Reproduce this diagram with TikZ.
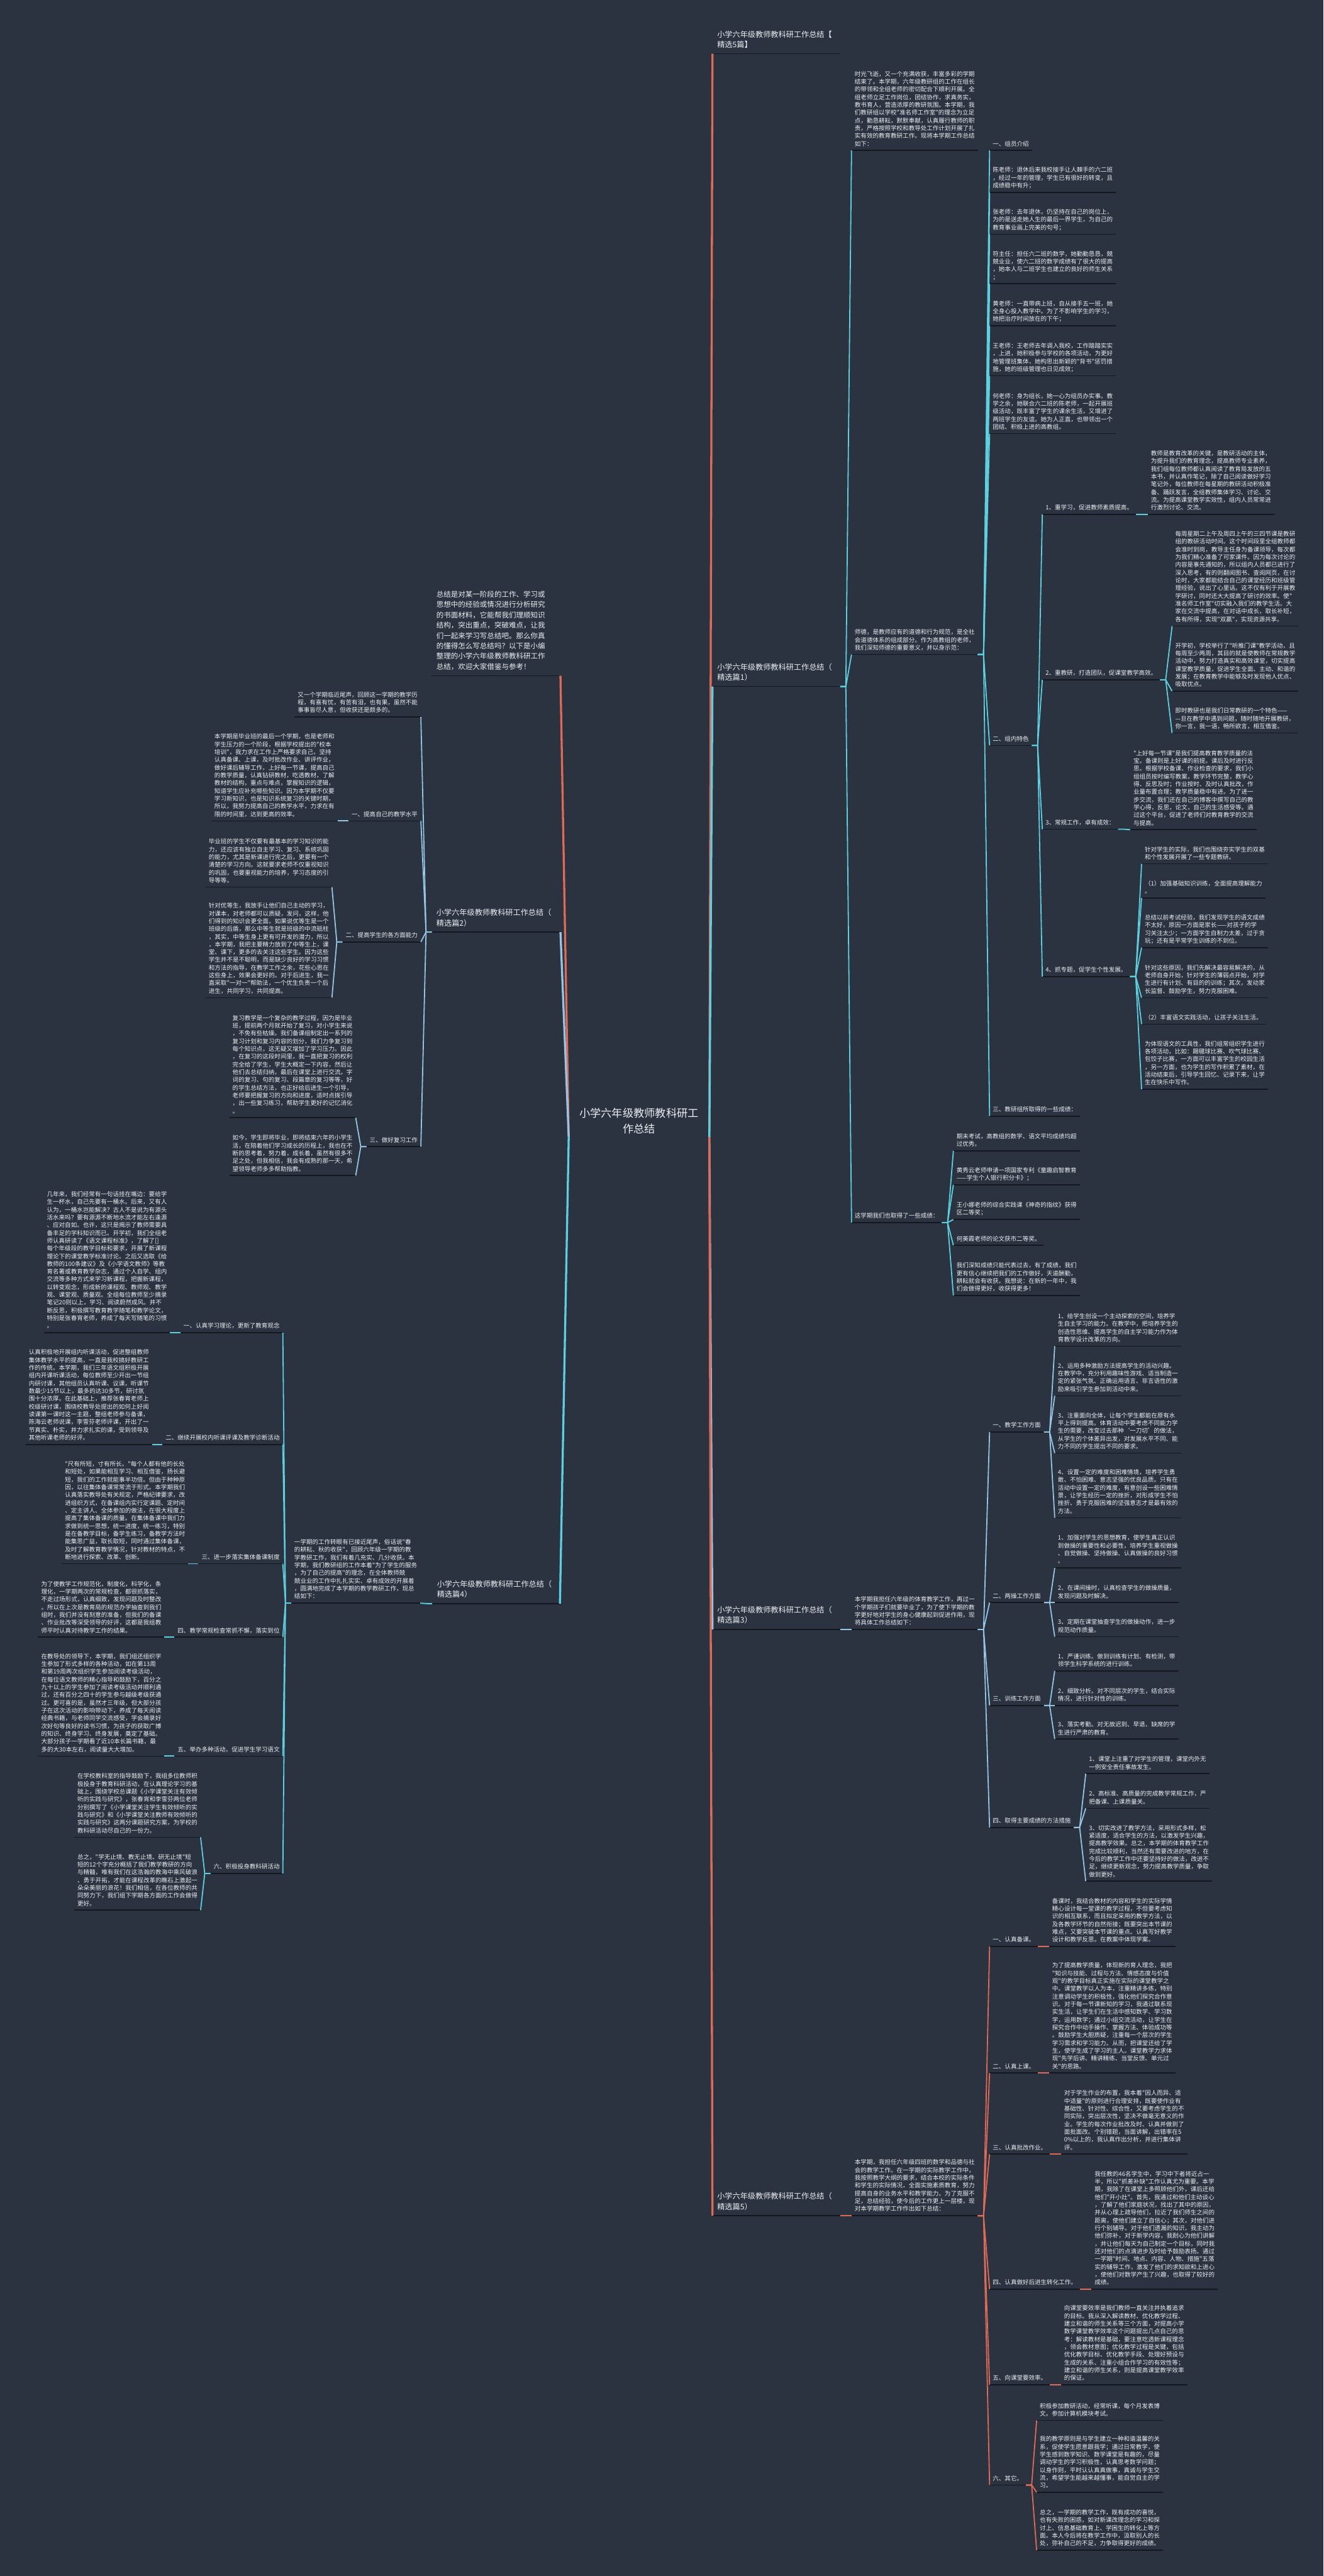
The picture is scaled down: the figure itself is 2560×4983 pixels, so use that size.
\documentclass[tikz,border=0pt]{standalone}
\usepackage{fontspec}
\newfontfamily\cjkf{Noto Sans CJK SC}
\usetikzlibrary{calc}
\definecolor{bg}{RGB}{43,51,64}
\definecolor{txt}{RGB}{236,239,243}
\definecolor{ul}{RGB}{20,24,30}
\definecolor{cyanc}{RGB}{92,208,224}
\definecolor{lblue}{RGB}{150,196,228}
\definecolor{redc}{RGB}{224,106,86}
\newcommand\bodyf{\cjkf\fontsize{11.6}{15}\selectfont}
\newcommand\headf{\cjkf\fontsize{14.8}{20}\selectfont}
\newcommand\headsf{\cjkf\fontsize{14}{20}\selectfont}
\newcommand\centf{\cjkf\fontsize{21}{30}\selectfont}
\tikzset{
  body/.style={font=\bodyf,text=txt,align=left,inner sep=0pt,execute at end node=\strut},
  head/.style={font=\headf,text=txt,align=left,inner sep=0pt,execute at end node=\strut},
  heads/.style={font=\headsf,text=txt,align=left,inner sep=0pt,execute at end node=\strut},
  uline/.style={draw=ul,line width=2pt},
  cy/.style={draw=cyanc,line width=2.2pt,line join=round},
  lb/.style={draw=lblue,line width=2.2pt,line join=round},
  rd/.style={draw=redc,line width=2.2pt,line join=round},
  mcy/.style={draw=cyanc,line width=4pt},
  mlb/.style={draw=lblue,line width=4pt},
  mrd/.style={draw=redc,line width=4pt}
}
% right-growing node: name, x1, underline y, style, text
\newcommand\mmR[5]{%
  \node[#4,anchor=south west] (#1) at ({#2+6},{#3-4}) {#5};
  \coordinate (#1S) at (#2,#3);
  \coordinate (#1E) at ($(#1.south east)+(6,4)$);
  \draw[uline] (#1S) -- (#1E);}
% left-growing node: name, x2, underline y, style, text
\newcommand\mmL[5]{%
  \node[#4,anchor=south east] (#1) at ({#2-6},{#3-4}) {#5};
  \coordinate (#1E) at (#2,#3);
  \coordinate (#1W) at ($(#1.south west)+(-6,4)$);
  \draw[uline] (#1W) -- (#1E);}
% header node: name, x1, x2, y, style, text
\newcommand\mmH[6]{%
  \node[#5,anchor=south west] (#1) at ({#2+9},{#4-6}) {#6};
  \coordinate (#1S) at (#2,#4);
  \coordinate (#1W) at (#2,#4);
  \coordinate (#1E) at (#3,#4);
  \draw[uline] (#1S) -- (#1E);}
\newcommand\fanR[3]{\foreach \cc in {#2}{\draw[#3] (#1E) -- ++(11,0) -- (\cc S);}}
\newcommand\fanL[3]{\foreach \cc in {#2}{\draw[#3] (#1W) -- ++(-11,0) -- (\cc E);}}
\begin{document}
\begin{tikzpicture}[x=1pt,y=-1pt]
\useasboundingbox (0,0) rectangle (2560,4983);
\fill[bg] (0,0) rectangle (2560,4983);

% ---------------- centre ----------------
\node[font=\centf,text=txt,align=center,inner sep=0pt] (ctr) at (1236,2168) {小学六年级教师教科研工\\作总结};
\coordinate (cR) at (1372,2200);
\coordinate (cL) at (1100,2200);

% ---------------- right: headers ----------------
\mmH{h0}{1378}{1625}{104}{head}{小学六年级教师教科研工作总结【\\精选5篇】}
\mmH{p1}{1378}{1625}{1328}{head}{小学六年级教师教科研工作总结（\\精选篇1）}
\mmH{p3}{1378}{1625}{3152}{head}{小学六年级教师教科研工作总结（\\精选篇3）}
\mmH{p5}{1378}{1625}{4286}{head}{小学六年级教师教科研工作总结（\\精选篇5）}

% ---------------- 篇1 ----------------
\mmR{p1a}{1647}{291}{body}{时光飞逝，又一个充满收获，丰富多彩的学期\\结束了。本学期，六年级教研组的工作在组长\\的带领和全组老师的密切配合下顺利开展。全\\组老师立足工作岗位，团结协作，求真务实，\\教书育人，营造浓厚的教研氛围。本学期，我\\们教研组以学校"准名师工作室"的理念为立足\\点，勤恳耕耘，默默奉献，认真履行教师的职\\责，严格按照学校和教导处工作计划开展了扎\\实有效的教育教研工作。现将本学期工作总结\\如下：}
\mmR{p1b}{1647}{1266}{body}{师德，是教师应有的道德和行为规范，是全社\\会道德体系的组成部分。作为高教组的老师，\\我们深知师德的重要意义，并以身示范：}
\mmR{p1c}{1647}{2365}{body}{这学期我们也取得了一些成绩：}

\mmR{a1}{1914}{291}{body}{一、组员介绍}
\mmR{a2}{1914}{372}{body}{陈老师：退休后来我校接手让人棘手的六二班\\，经过一年的管理，学生已有很好的转变，且\\成绩稳中有升；}
\mmR{a3}{1914}{453}{body}{张老师：去年退休，仍坚持在自己的岗位上，\\为的是送走她人生的最后一界学生，为自己的\\教育事业画上完美的句号；}
\mmR{a4}{1914}{549}{body}{符主任：担任六二班的数学，她勤勤恳恳，兢\\兢业业，使六二班的数学成绩有了很大的提高\\，她本人与二班学生也建立的良好的师生关系\\；}
\mmR{a5}{1914}{630}{body}{黄老师：一直带病上班，自从接手五一班，她\\全身心投入教学中。为了不影响学生的学习，\\她把治疗时间放在的下午；}
\mmR{a6}{1914}{727}{body}{王老师：王老师去年调入我校，工作踏踏实实\\，上进，她积极参与学校的各项活动，为更好\\地管理班集体，她构思出新颖的"背书"惩罚措\\施，她的班级管理也日见成效；}
\mmR{a7}{1914}{839}{body}{何老师：身为组长，她一心为组员办实事。教\\学之余，她联合六二班的陈老师，一起开展班\\级活动，既丰富了学生的课余生活，又增进了\\两班学生的友谊。她为人正直，也带领出一个\\团结、积极上进的高教组。}
\mmR{a8}{1914}{1442}{body}{二、组内特色}
\mmR{a9}{1914}{2159}{body}{三、教研组所取得的一些成绩：}

\mmR{b1}{2016}{995}{body}{1、重学习，促进教师素质提高。}
\mmR{b1a}{2220}{995}{body}{教师是教育改革的关键，是教研活动的主体，\\为提升我们的教育理念，提高教师专业素养，\\我们组每位教师都认真阅读了教育局发放的五\\本书，并认真作笔记，除了自己阅读做好学习\\笔记外，每位教师在每星期的教研活动积极准\\备、踊跃发言，全组教师集体学习、讨论、交\\流。为提高课堂教学实效性，组内人员常常进\\行激烈讨论、交流。}
\mmR{b2}{2016}{1315}{body}{2、重教研，打造团队，促课堂教学高效。}
\mmR{b2a}{2267}{1211}{body}{每周星期二上午及周四上午的三四节课是教研\\组的教研活动时间。这个时间段里全组教师都\\会准时到岗，教导主任身为备课领导，每次都\\为我们精心准备了可家课件。因为每次讨论的\\内容是事先通知的，所以组内人员都已进行了\\深入思考，有的则翻阅图书、查阅网页，在讨\\论时，大家都能结合自己的课堂经历和班级管\\理经验，说出了心里话。这不仅有利于开展教\\学研讨，同时还大大提高了研讨的效率。使"\\准名师工作室"切实融入我们的教学生活。大\\家在交流中提高，在对话中成长，取长补短，\\各有所得，实现"双赢"，实现资源共享。}
\mmR{b2b}{2267}{1337}{body}{开学初，学校举行了"听推门课"教学活动，且\\每周至少两周，其目的就是使教师在常规教学\\活动中，努力打造真实和高效课堂，切实提高\\课堂教学质量，促进学生全面、主动、和谐的\\发展；在教育教学中能够及时发现他人优点、\\吸取优点。}
\mmR{b2c}{2267}{1418}{body}{即时教研也是我们日常教研的一个特色——\\—旦在教学中遇到问题，随时随地开展教研，\\你一言，我一语，畅所欲言，相互借鉴。}
\mmR{b3}{2016}{1604}{body}{3、常规工作，卓有成效：}
\mmR{b3a}{2186}{1605}{body}{"上好每一节课"是我们提高教育教学质量的法\\宝。备课则是上好课的前提。课后及时进行反\\思。根据学校备课、作业检查的要求，我们小\\组组员按时编写教案，教学环节完整，教学心\\得、反思及时；作业按时、及时认真批改，作\\业量布置合理；教学质量稳中有进。为了进一\\步交流，我们还在自己的博客中撰写自己的教\\学心得，反思，论文，自己的生活感受等。通\\过这个平台，促进了老师们对教育教学的交流\\与提高。}
\mmR{b4}{2016}{1889}{body}{4、抓专题，促学生个性发展。}
\mmR{b4a}{2208}{1671}{body}{针对学生的实际，我们也围绕夯实学生的双基\\和个性发展开展了一些专题教研。}
\mmR{b4b}{2208}{1737}{body}{（1）加强基础知识训练，全面提高理解能力\\。}
\mmR{b4c}{2208}{1833}{body}{总结以前考试经验，我们发现学生的语文成绩\\不太好，原因一方面是家长——对孩子的学\\习关注太少；一方面学生自制力太差，过于贪\\玩；还有是平常学生训练的不到位。}
\mmR{b4d}{2208}{1930}{body}{针对这些原因，我们先解决最容易解决的，从\\老师自身开始，针对学生的薄弱点开始，对学\\生进行有计划、有目的的训练；其次，发动家\\长监督、鼓励学生，努力克服困难。}
\mmR{b4e}{2208}{1981}{body}{（2）丰富语文实践活动，让孩子关注生活。}
\mmR{b4f}{2208}{2107}{body}{为体现语文的工具性，我们组常组织学生进行\\各项活动，比如：踢毽球比赛、吹气球比赛、\\包饺子比赛，一方面可以丰富学生的校园生活\\，另一方面，也为学生的写作积累了素材，在\\活动结束后，引导学生回忆、记录下来，让学\\生在快乐中写作。}

\mmR{c1}{1844}{2226}{body}{期末考试，高教组的数学、语文平均成绩均超\\过优秀。}
\mmR{c2}{1844}{2292}{body}{黄秀云老师申请一项国家专利《童趣启智教育\\——学生个人银行积分卡》；}
\mmR{c3}{1844}{2359}{body}{王小娜老师的综合实践课《神奇的指纹》获得\\区二等奖；}
\mmR{c4}{1844}{2409}{body}{何美霞老师的论文获市二等奖。}
\mmR{c5}{1844}{2506}{body}{我们深知成绩只能代表过去，有了成绩，我们\\更有信心继续把我们的工作做好，天道酬勤，\\耕耘就会有收获。我想说：在新的一年中，我\\们会做得更好，收获得更多！}

% ---------------- 篇3 ----------------
\mmR{p3a}{1647}{3152}{body}{本学期我担任六年级的体育教学工作，再过一\\个学期孩子们就要毕业了，为了使下学期的教\\学更好地对学生的身心健康起到促进作用，现\\将具体工作总结如下：}
\mmR{d1}{1914}{2770}{body}{一、教学工作方面}
\mmR{d2}{1914}{3100}{body}{二、两操工作方面}
\mmR{d3}{1914}{3299}{body}{三、训练工作方面}
\mmR{d4}{1914}{3535}{body}{四、取得主要成绩的方法措施}
\mmR{e1}{2040}{2604}{body}{1、给学生创设一个主动探索的空间，培养学\\生自主学习的能力。在教学中，把培养学生的\\创造性思维、提高学生的自主学习能力作为体\\育教学设计改革的方向。}
\mmR{e2}{2040}{2700}{body}{2、运用多种激励方法提高学生的活动兴趣。\\在教学中，充分利用趣味性游戏、适当制造一\\定的紧张气氛、正确运用语言、非言语性的激\\励来吸引学生参加到活动中来。}
\mmR{e3}{2040}{2811}{body}{3、注重面向全体，让每个学生都能在原有水\\平上得到提高。体育活动中要考虑不同能力学\\生的需要，改变过去那种‘一刀切’的做法，\\从学生的个体差异出发，对发展水平不同、能\\力不同的学生提出不同的要求。}
\mmR{e4}{2040}{2936}{body}{4、设置一定的难度和困难情境，培养学生勇\\敢、不怕困难、意志坚强的优良品质。只有在\\活动中设置一定的难度，有意创设一些困难情\\景，让学生经历一定的挫折，对形成学生不怕\\挫折、勇于克服困难的坚强意志才是最有效的\\方法。}
\mmR{f1}{2040}{3033}{body}{1、加强对学生的思想教育，使学生真正认识\\到做操的重要性和必要性，培养学生重视做操\\、自觉做操、坚持做操、认真做操的良好习惯\\。}
\mmR{f2}{2040}{3100}{body}{2、在课间操时，认真检查学生的做操质量，\\发现问题及时解决。}
\mmR{f3}{2040}{3166}{body}{3、定期在课堂抽查学生的做操动作，进一步\\规范动作质量。}
\mmR{g1}{2040}{3232}{body}{1、严谨训练。做到训练有计划、有检测，带\\领学生科学系统的进行训练。}
\mmR{g2}{2040}{3299}{body}{2、细致分析。对不同层次的学生，结合实际\\情况，进行针对性的训练。}
\mmR{g3}{2040}{3364}{body}{3、落实考勤。对无故迟到、早退、缺席的学\\生进行严肃的教育。}
\mmR{h1}{2100}{3431}{body}{1、课堂上注重了对学生的管理，课堂内外无\\一例安全责任事故发生。}
\mmR{h2}{2100}{3498}{body}{2、高标准、高质量的完成教学常规工作，严\\把备课、上课质量关。}
\mmR{h3}{2100}{3639}{body}{3、切实改进了教学方法，采用形式多样，松\\紧适度，适合学生的方法，以激发学生兴趣，\\提高教学效果。总之，本学期的体育教学工作\\完成比较顺利，当然还有需要改进的地方，在\\今后的教学工作中还要坚持好的做法，改进不\\足，继续更新观念，努力提高教学质量，争取\\做到更好。}

% ---------------- 篇5 ----------------
\mmR{p5a}{1647}{4286}{body}{本学期，我担任六年级四班的数学和品德与社\\会的教学工作。在一学期的实际教学工作中，\\我按照教学大纲的要求，结合本校的实际条件\\和学生的实际情况，全面实施素质教育，努力\\提高自身的业务水平和教学能力。为了克服不\\足，总结经验，使今后的工作更上一层楼，现\\对本学期教学工作作出如下总结：}
\mmR{k1}{1914}{3765}{body}{一、认真备课。}
\mmR{k2}{1914}{4010}{body}{二、认真上课。}
\mmR{k3}{1914}{4167}{body}{三、认真批改作业。}
\mmR{k4}{1914}{4428}{body}{四、认真做好后进生转化工作。}
\mmR{k5}{1914}{4613}{body}{五、向课堂要效率。}
\mmR{k6}{1914}{4807}{body}{六、其它。}
\mmR{k1a}{2029}{3765}{body}{备课时，我结合教材的内容和学生的实际学情\\精心设计每一堂课的教学过程，不但要考虑知\\识的相互联系，而且拟定采用的教学方法，以\\及各教学环节的自然衔接；既要突出本节课的\\难点，又要突破本节课的重点。认真写好教学\\设计和教学反思。在教案中体现学案。}
\mmR{k2a}{2029}{4010}{body}{为了提高教学质量，体现新的育人理念，我把\\"知识与技能、过程与方法、情感态度与价值\\观"的教学目标真正实施在实际的课堂教学之\\中。课堂教学以人为本，注重精讲多练，特别\\注意调动学生的积极性，强化他们探究合作意\\识。对于每一节课新知的学习，我通过联系现\\实生活，让学生们在生活中感知数学、学习数\\学，运用数学；通过小组交流活动，让学生在\\探究合作中动手操作、掌握方法、体验成功等\\。鼓励学生大胆质疑，注重每一个层次的学生\\学习需求和学习能力。从而，把课堂还给了学\\生，使学生成了学习的主人。课堂教学力求体\\现"先学后讲、精讲精练、当堂反馈、单元过\\关"的思路。}
\mmR{k3a}{2052}{4167}{body}{对于学生作业的布置，我本着"因人而异、适\\中适量"的原则进行合理安排，既要使作业有\\基础性、针对性、综合性，又要考虑学生的不\\同实际，突出层次性，坚决不做毫无意义的作\\业。学生的每次作业批改及时、认真并做到了\\面批面改。个别错题，当面讲解，出错率在5\\0\%以上的，我认真作出分析，并进行集体讲\\评。}
\mmR{k4a}{2111}{4428}{body}{我任教的46名学生中，学习中下者将近占一\\半，所以"抓差补缺"工作认真尤为重要。本学\\期，我除了在课堂上多照顾他们外，课后还给\\他们"开小灶"。首先，我通过和他们主动谈心\\，了解了他们家庭状况，找出了其中的原因，\\并从心理上疏导他们，拉近了我们师生之间的\\距离，使他们建立了自信心；其次，对他们进\\行个别辅导。对于他们遗漏的知识，我主动为\\他们弥补，对于新学内容，我耐心为他们讲解\\，并让他们每天为自己制定一个目标，同时我\\还对他们的点滴进步及时给予鼓励表扬。通过\\一学期"时间、地点、内容、人物、措施"五落\\实的辅导工作，激发了他们的求知欲和上进心\\，使他们对数学产生了兴趣，也取得了较好的\\成绩。}
\mmR{k5a}{2052}{4613}{body}{向课堂要效率是我们教师一直关注并执着追求\\的目标。我从深入解读教材、优化教学过程、\\建立和谐的师生关系等三个方面，对提高小学\\数学课堂教学效率这个问题提出几点自己的思\\考：解读教材是基础，要注意吃透新课程理念\\，领会教材意图；优化教学过程是关键，包括\\优化教学目标、优化教学手段、处理好预设与\\生成的关系、注重小组合作学习的有效性等；\\建立和谐的师生关系，则是提高课堂教学效率\\的保证。}
\mmR{m1}{2005}{4682}{body}{积极参加教研活动，经常听课，每个月发表博\\文。参加计算机模块考试。}
\mmR{m2}{2005}{4821}{body}{我的教学原则是与学生建立一种和谐温馨的关\\系，促使学生愿意跟我学；通过日常教学，使\\学生感到数学知识、数学课堂是有趣的，尽量\\调动学生的学习积极性，认真思考数学问题；\\以身作则，平时认认真真做事，真诚与学生交\\流，希望学生能越来越懂事，能自觉自主的学\\习。}
\mmR{m3}{2005}{4933}{body}{总之，一学期的教学工作，既有成功的喜悦，\\也有失败的困惑，如对新课改理念的学习和探\\讨上、信息基础教育上、学困生的转化上等方\\面。本人今后将在教学工作中，汲取别人的长\\处，弥补自己的不足，力争取得更好的成绩。}

% ---------------- left: headers ----------------
\mmH{l0}{835}{1084}{1307}{heads}{总结是对某一阶段的工作、学习或\\思想中的经验或情况进行分析研究\\的书面材料，它能帮我们理顺知识\\结构，突出重点，突破难点，让我\\们一起来学习写总结吧。那么你真\\的懂得怎么写总结吗？以下是小编\\整理的小学六年级教师教科研工作\\总结，欢迎大家借鉴与参考！}
\mmH{p2}{835}{1084}{1803}{head}{小学六年级教师教科研工作总结（\\精选篇2）}
\mmH{p4}{836}{1083}{3102}{head}{小学六年级教师教科研工作总结（\\精选篇4）}

% ---------------- 篇2 ----------------
\mmL{q0}{814}{1387}{body}{又一个学期临近尾声，回顾这一学期的教学历\\程，有喜有忧，有苦有泪，也有果，虽然不能\\事事皆尽人意，但收获还是颇多的。}
\mmL{q1}{814}{1588}{body}{一、提高自己的教学水平}
\mmL{q2}{814}{1822}{body}{二、提高学生的各方面能力}
\mmL{q3}{814}{2218}{body}{三、做好复习工作}
\mmL{q1a}{653}{1588}{body}{本学期是毕业班的最后一个学期，也是老师和\\学生压力的一个阶段，根据学校提出的"校本\\培训"，我力求在工作上严格要求自己，坚持\\认真备课、上课，及时批改作业、讲评作业，\\做好课后辅导工作，上好每一节课，提高自己\\的教学质量，认真钻研教材，吃透教材，了解\\教材的结构，重点与难点，掌握知识的逻辑，\\知道学生应补充哪些知识。因为本学期不仅要\\学习新知识，也是知识系统复习的关键时期，\\所以，我努力提高自己的教学水平，力求在有\\限的时间里，达到更高的效率。}
\mmL{q2a}{642}{1716}{body}{毕业班的学生不仅要有最基本的学习知识的能\\力，还应该有独立自主学习、复习、系统巩固\\的能力，尤其是新课进行完之后，更要有一个\\清楚的学习方向。这就要求老师不仅重视知识\\的巩固，也要重视能力的培养，学习态度的引\\导等等。}
\mmL{q2b}{642}{1930}{body}{针对优等生，我放手让他们自己主动的学习，\\对课本，对老师都可以质疑，发问，这样，他\\们得到的知识会更全面。如果说优等生是一个\\班级的后盾，那么中等生就是班级的中流砥柱\\，其实，中等生身上更有可开发的潜力，所以\\，本学期，我把主要精力放到了中等生上，课\\堂、课下，更多的去关注这些学生。因为这些\\学生并不是不聪明，而是缺少良好的学习习惯\\和方法的指导，在教学工作之余，花些心思在\\这些身上，效果会更好的。对于后进生，我一\\直采取"一对一"帮助法，一个优生负责一个后\\进生，共同学习，共同提高。}
\mmL{q3a}{688}{2162}{body}{复习教学是一个复杂的教学过程，因为是毕业\\班，提前两个月就开始了复习，对小学生来说\\，不免有些枯燥。我们备课组制定出一系列的\\复习计划和复习内容的划分，我们力争复习到\\每个知识点，这无疑又增加了学习压力。因此\\，在复习的这段时间里，我一直把复习的权利\\完全给了学生，学生大概定一下内容，然后让\\他们去总结归纳，最后在课堂上进行交流。字\\词的复习、句的复习、段篇章的复习等等，好\\的学生总结方法，也正好给后进生一个引导，\\老师要把握复习的方向和进度，适时点拨引导\\，出一些复习练习，帮助学生更好的记忆消化\\。}
\mmL{q3b}{688}{2274}{body}{如今，学生即将毕业，即将结束六年的小学生\\活，在陪着他们学习成长的历程上，我也在不\\断的思考着，努力着，成长着，虽然有很多不\\足之处，但我相信，我会有成熟的那一天，希\\望领导老师多多帮助指教。}

% ---------------- 篇4 ----------------
\mmL{r0}{813}{3101}{body}{一学期的工作转眼有已接近尾声，俗话说"春\\的耕耘、秋的收获"，回顾六年级一学期的教\\学教研工作，我们有着几充实、几分收获。本\\学期，我们教研组的工作本着"为了学生的服务\\，为了自己的提高"的理念，在全体教师兢\\兢业业的工作中扎扎实实、卓有成效的开展着\\，圆满地完成了本学期的教学教研工作，现总\\结如下：}
\mmL{s1}{547}{2578}{body}{一、认真学习理论，更新了教育观念}
\mmL{s2}{547}{2794}{body}{二、继续开展校内听课评课及教学诊断活动}
\mmL{s3}{547}{3025}{body}{三、进一步落实集体备课制度}
\mmL{s4}{547}{3167}{body}{四、教学常规检查常抓不懈，落实到位}
\mmL{s5}{547}{3397}{body}{五、举办多种活动，促进学生学习语文}
\mmL{s6}{547}{3624}{body}{六、积极投身教科研活动}
\mmL{s1a}{329}{2578}{body}{几年来，我们经常有一句话挂在嘴边：要给学\\生一杯水，自己先要有一桶水。后来，又有人\\认为，一桶水岂能解决？古人不是说为有源头\\活水来吗？要有源源不断地水流才能左右逢源\\、应对自如。也许，这只是揭示了教师需要具\\备丰足的学科知识而已。开学初，我们全组老\\师认真研读了《语文课程标准》，了解了[]\\每个年级段的教学目标和要求，开展了新课程\\理论下的课堂教学标准讨论。之后又选取《给\\教师的100条建议》及《小学语文教师》等教\\育名著或教育教学杂志，通过个人自学、组内\\交流等多种方式来学习新课程，把握新课程，\\以转变观念，形成新的课程观、教师观、教学\\观、课堂观、质量观。全组每位教师至少摘录\\笔记20则以上，学习、阅读蔚然成风。并不\\断反思，积极撰写教育教学随笔和教学论文，\\特别是张春宵老师，养成了每天写随笔的习惯\\。}
\mmL{s2a}{294}{2794}{body}{认真积极地开展组内听课活动，促进整组教师\\集体教学水平的提高，一直是我校搞好教研工\\作的传统。本学期，我们三年语文组积极开展\\组内开课听课活动，每位教师至少开出一节组\\内研讨课，其他组员认真听课、议课，听课节\\数最少15节以上，最多的达30多节，研讨氛\\围十分浓厚。在此基础上，推荐张春宵老师上\\校级研讨课，围绕校教导处提出的如何上好阅\\读课第一课时这一主题，整组老师参与备课，\\陈海云老师说课，李雪芬老师评课，开出了一\\节真实、朴实，并力求扎实的课，受到领导及\\其他听课老师的好评。}
\mmL{s3a}{364}{3025}{body}{"尺有所短，寸有所长。"每个人都有他的长处\\和短处，如果能相互学习、相互借鉴，扬长避\\短，我们的工作就能事半功倍。但由于种种原\\因，以往集体备课常常流于形式。本学期我们\\认真落实教导处有关规定，严格纪律要求，改\\进组织方式，在备课组内实行定课题、定时间\\、定主讲人、全体参加的做法，在很大程度上\\提高了集体备课的质量。在集体备课中我们力\\求做到统一思想，统一进度，统一练习，特别\\是在备教学目标，备学生练习，备教学方法时\\能集思广益，取长取短，同时通过集体备课，\\及时了解教育教学情况，针对教材的特点，不\\断地进行探索、改革、创新。}
\mmL{s4a}{318}{3167}{body}{为了使教学工作规范化，制度化，科学化，条\\理化，一学期两次的常规检查，都很抓落实，\\不走过场形式，认真细致，发现问题及时整改\\。所以在上次是教育局的规范办学抽查到我们\\组时，我们并没有刻意的准备，但我们的备课\\、作业批改等深受领导的好评，这都是我组教\\师平时认真对待教学工作的结果。}
\mmL{s5a}{318}{3397}{body}{在教导处的领导下，本学期，我们组还组织学\\生参加了形式多样的各种活动，如在第13周\\和第19周两次组织学生参加阅读考级活动，\\在每位语文教师的精心指导和鼓励下，百分之\\九十以上的学生参加了阅读考级活动并顺利通\\过，还有百分之四十的学生参与越级考级获通\\过。更可喜的是，虽然才三年级，但大部分孩\\子在这次活动的影响带动下，养成了每天阅读\\经典书籍，与老师同学交流感受，学会摘录好\\次好句等良好的读书习惯，为孩子的获取广博\\的知识、终身学习、终身发展，奠定了基础。\\大部分孩子一学期看了近10本长篇书籍，最\\多的大30本左右，阅读量大大增加。}
\mmL{s6a}{388}{3554}{body}{在学校教科室的指导鼓励下，我组多位教师积\\极投身于教育科研活动，在认真理论学习的基\\础上，围绕学校总课题《小学课堂关注有效倾\\听的实践与研究》，张春宵和李雪芬两位老师\\分别撰写了《小学课堂关注学生有效倾听的实\\践与研究》和《小学课堂关注教师有效倾听的\\实践与研究》这两分课题研究方案，为学校的\\教科研活动尽自己的一份力。}
\mmL{s6b}{388}{3695}{body}{总之，"学无止境、教无止境、研无止境"短\\短的12个字充分概括了我们教学教研的方向\\与精髓，唯有我们在这浩瀚的教海中乘风破浪\\、勇于开拓，才能在课程改革的瞧石上激起一\\朵朵美丽的浪花！我们相信，在各位教师的共\\同努力下，我们组下学期各方面的工作会做得\\更好。}

% ---------------- connectors ----------------
\draw[mrd] (cR) -- (h0S);
\draw[mcy] (cR) -- (p1S);
\draw[mlb] (cR) -- (p3S);
\draw[mrd] (cR) -- (p5S);
\draw[mrd] (cL) -- (l0E);
\draw[mlb] (cL) -- (p2E);
\draw[mcy] (cL) -- (p4E);

\fanR{p1}{p1a,p1b,p1c}{cy}
\fanR{p1b}{a1,a2,a3,a4,a5,a6,a7,a8,a9}{cy}
\fanR{a8}{b1,b2,b3,b4}{cy}
\fanR{b1}{b1a}{cy}
\fanR{b2}{b2a,b2b,b2c}{cy}
\fanR{b3}{b3a}{cy}
\fanR{b4}{b4a,b4b,b4c,b4d,b4e,b4f}{cy}
\fanR{p1c}{c1,c2,c3,c4,c5}{cy}

\fanR{p3}{p3a}{lb}
\fanR{p3a}{d1,d2,d3,d4}{lb}
\fanR{d1}{e1,e2,e3,e4}{lb}
\fanR{d2}{f1,f2,f3}{lb}
\fanR{d3}{g1,g2,g3}{lb}
\fanR{d4}{h1,h2,h3}{lb}

\fanR{p5}{p5a}{rd}
\fanR{p5a}{k1,k2,k3,k4,k5,k6}{rd}
\fanR{k1}{k1a}{rd}
\fanR{k2}{k2a}{rd}
\fanR{k3}{k3a}{rd}
\fanR{k4}{k4a}{rd}
\fanR{k5}{k5a}{rd}
\fanR{k6}{m1,m2,m3}{rd}

\fanL{p2}{q0,q1,q2,q3}{lb}
\fanL{q1}{q1a}{lb}
\fanL{q2}{q2a,q2b}{lb}
\fanL{q3}{q3a,q3b}{lb}

\fanL{p4}{r0}{cy}
\fanL{r0}{s1,s2,s3,s4,s5,s6}{cy}
\fanL{s1}{s1a}{cy}
\fanL{s2}{s2a}{cy}
\fanL{s3}{s3a}{cy}
\fanL{s4}{s4a}{cy}
\fanL{s5}{s5a}{cy}
\fanL{s6}{s6a,s6b}{cy}
\end{tikzpicture}
\end{document}
